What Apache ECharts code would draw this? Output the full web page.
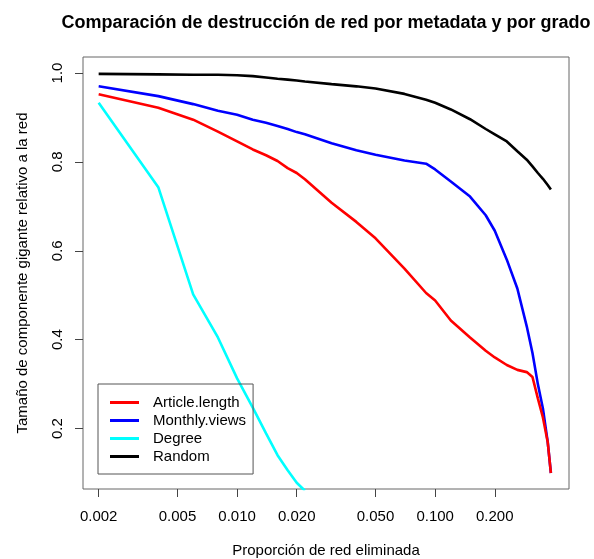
<!DOCTYPE html>
<html>
<head>
<meta charset="utf-8">
<script src="https://cdn.jsdelivr.net/npm/echarts@6/dist/echarts.min.js"></script>
<style>
  html, body { margin: 0; padding: 0; background: #fff; }
  #chart { width: 594px; height: 559px; }
</style>
</head>
<body>
<div id="chart"></div>
<script>
// Proportion of the network removed (shared x grid for every strategy)
const removed = [0.002, 0.004, 0.006, 0.008, 0.010, 0.012, 0.014, 0.016, 0.018, 0.020,
                 0.022, 0.030, 0.040, 0.050, 0.070, 0.090, 0.100, 0.120, 0.150, 0.180,
                 0.200, 0.230, 0.260, 0.290, 0.310, 0.330, 0.350, 0.370, 0.384];

// Relative size of the giant component for each removal strategy
const articleLength = [0.952, 0.922, 0.895, 0.868, 0.846, 0.828, 0.815, 0.802, 0.786, 0.775,
                       0.761, 0.708, 0.665, 0.628, 0.560, 0.505, 0.488, 0.443, 0.405, 0.375,
                       0.360, 0.343, 0.332, 0.327, 0.316, 0.268, 0.225, 0.170, 0.100];
const monthlyViews  = [0.970, 0.948, 0.930, 0.915, 0.906, 0.895, 0.888, 0.881, 0.874, 0.867,
                       0.862, 0.842, 0.826, 0.816, 0.803, 0.796, 0.783, 0.756, 0.722, 0.680,
                       0.645, 0.580, 0.515, 0.430, 0.370, 0.300, 0.245, 0.170, 0.100];
const degree        = [0.933, 0.743, 0.502, 0.405, 0.313, 0.247, 0.189, 0.140, 0.106, 0.078,
                       0.060, null, null, null, null, null, null, null, null, null,
                       null, null, null, null, null, null, null, null, null];
const randomOrder   = [0.998, 0.997, 0.996, 0.996, 0.995, 0.993, 0.990, 0.987, 0.985, 0.983,
                       0.981, 0.975, 0.970, 0.965, 0.953, 0.940, 0.933, 0.918, 0.896, 0.874,
                       0.862, 0.846, 0.824, 0.805, 0.790, 0.775, 0.762, 0.748, 0.738];

// Axis tick labels
const xTicks = [0.002, 0.005, 0.010, 0.020, 0.050, 0.100, 0.200];
const yTicks = [0.2, 0.4, 0.6, 0.8, 1.0];

const seriesNames  = ['Article.length', 'Monthly.views', 'Degree', 'Random'];
const seriesValues = [articleLength, monthlyViews, degree, randomOrder];
const seriesColors = ['#ff0000', '#0000ff', '#00ffff', '#000000'];

const FONT = '"Liberation Sans", Arial, Helvetica, sans-serif';

function pairs(values) {
  return removed.map((x, i) => [x, values[i]]);
}

const chart = echarts.init(document.getElementById('chart'), null, { renderer: 'canvas' });

chart.setOption({
  animation: false,
  backgroundColor: '#ffffff',
  textStyle: { fontFamily: FONT },
  title: {
    text: 'Comparación de destrucción de red por metadata y por grado',
    left: 321,
    textAlign: 'center',
    top: 9,
    textStyle: { fontFamily: FONT, fontSize: 18, fontWeight: 'bold', color: '#000' }
  },
  grid: {
    left: 83, right: 25, top: 57, bottom: 70,
    outerBoundsMode: 'none',
    containLabel: false,
    show: true, borderColor: '#666', borderWidth: 1, backgroundColor: 'transparent'
  },
  legend: {
    orient: 'vertical',
    left: 98,
    top: 384,
    padding: [11, 7, 10, 12],
    itemGap: 3,
    icon: 'rect',
    itemWidth: 29,
    itemHeight: 3,
    borderColor: '#555',
    borderWidth: 1,
    data: seriesNames,
    textStyle: { fontFamily: FONT, fontSize: 15, color: '#000', lineHeight: 15, padding: [0, 0, 0, 9] }
  },
  xAxis: {
    type: 'log',
    logBase: 10,
    min: 0.001667,
    max: 0.474,
    name: 'Proporción de red eliminada',
    nameLocation: 'middle',
    nameGap: 54,
    nameTextStyle: { fontFamily: FONT, fontSize: 15, color: '#000' },
    axisLine: { show: false },
    splitLine: { show: false },
    minorTick: { show: false },
    axisTick: { show: true, length: 8, lineStyle: { color: '#444' }, customValues: xTicks },
    axisLabel: {
      customValues: xTicks,
      margin: 20,
      fontFamily: FONT, fontSize: 15, color: '#000',
      formatter: v => Number(v).toFixed(3)
    }
  },
  yAxis: {
    type: 'value',
    min: 0.064,
    max: 1.036,
    name: 'Tamaño de componente gigante relativo a la red',
    nameLocation: 'middle',
    nameGap: 53,
    nameTextStyle: { fontFamily: FONT, fontSize: 15, color: '#000' },
    axisLine: { show: false },
    splitLine: { show: false },
    axisTick: { show: true, length: 8, lineStyle: { color: '#444' }, customValues: yTicks },
    axisLabel: {
      customValues: yTicks,
      rotate: 90,
      margin: 18,
      fontFamily: FONT, fontSize: 15, color: '#000',
      formatter: v => Number(v).toFixed(1)
    }
  },
  series: seriesNames.map((name, i) => ({
    name: name,
    type: 'line',
    data: pairs(seriesValues[i]),
    symbol: 'none',
    showSymbol: false,
    clip: true,
    connectNulls: false,
    color: seriesColors[i],
    lineStyle: { color: seriesColors[i], width: 2.6 },
    z: 2 + (3 - i)
  }))
});
</script>
</body>
</html>
